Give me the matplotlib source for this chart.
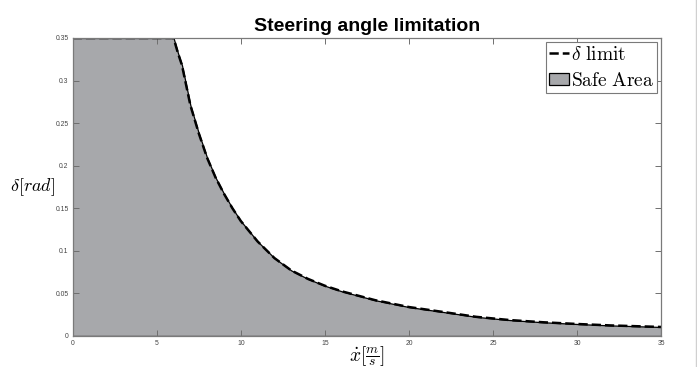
import matplotlib
matplotlib.use("Agg")
import matplotlib.pyplot as plt
from matplotlib.lines import Line2D

# speed [m/s] and steering limit [rad]
speed = [0, 6, 6.25, 6.5, 7, 7.5, 8, 8.5, 9, 9.5, 10, 11, 12, 13, 14, 15, 16, 18,
         20, 22, 24, 26, 28, 30, 32, 34, 35]
delta_lim = [0.35, 0.35, 0.333, 0.318, 0.271, 0.238, 0.209, 0.186, 0.167, 0.150,
             0.135, 0.111, 0.0915, 0.077, 0.067, 0.059, 0.0525, 0.042, 0.034,
             0.0283, 0.0225, 0.0187, 0.0161, 0.0141, 0.0124, 0.0112, 0.0106]

xticks = [0, 5, 10, 15, 20, 25, 30, 35]
yticks = [0, 0.05, 0.1, 0.15, 0.2, 0.25, 0.3, 0.35]
ytick_labels = ['0', '0.05', '0.1', '0.15', '0.2', '0.25', '0.3', '0.35']

plt.rcParams['mathtext.fontset'] = 'cm'

fig = plt.figure(figsize=(6.97, 3.67), dpi=100)
ax = fig.add_axes([0.1043, 0.0845, 0.8442, 0.812])

ax.fill_between(speed, delta_lim, 0, facecolor='#a7a8ab', edgecolor='black',
                linewidth=0.9, label=r'$\mathrm{Safe\ Area}$', zorder=1)
ax.plot(speed, delta_lim, '--', color='black', linewidth=1.8,
        label=r'$\delta\ \mathrm{limit}$', zorder=2)

ax.set_xlim(0, 35)
ax.set_ylim(0, 0.35)
ax.set_xticks(xticks)
ax.set_yticks(yticks)
ax.set_xticklabels([str(t) for t in xticks])
ax.set_yticklabels(ytick_labels)
ax.tick_params(direction='in', length=4, width=0.7, color='#6f6f6f',
               labelsize=4.9, labelcolor='#444444', top=True, right=True, pad=3)
for lab in ax.get_xticklabels() + ax.get_yticklabels():
    lab.set_fontfamily('Liberation Sans')
for sp in ax.spines.values():
    sp.set_color('#7a7a7a')
    sp.set_linewidth(0.9)

ax.set_title('Steering angle limitation', fontsize=14, fontweight='bold',
             family='Liberation Sans', pad=5)
ax.set_xlabel(r'$\dot{x}[\frac{m}{s}]$', fontsize=14)
ax.xaxis.set_label_coords(0.5, -0.068)
ax.xaxis.label.set_va('center')
ax.set_ylabel(r'$\delta[rad]$', fontsize=13, rotation=0)
ax.yaxis.set_label_coords(-0.068, 0.5)
ax.yaxis.label.set_va('center')
ax.yaxis.label.set_ha('center')

h, l = ax.get_legend_handles_labels()
leg = ax.legend(h[::-1], l[::-1], loc='upper right', fontsize=14, frameon=True,
                fancybox=False, edgecolor='#7a7a7a', framealpha=1,
                borderpad=0.15, borderaxespad=0.2, labelspacing=0.35,
                handlelength=1.05, handletextpad=0.1, handleheight=0.6)
leg.get_frame().set_linewidth(0.8)

fig.add_artist(Line2D([0.9985, 0.9985], [0, 1], transform=fig.transFigure,
                      color='#d0d0d0', linewidth=1))

fig.savefig('out.png', dpi=100)
